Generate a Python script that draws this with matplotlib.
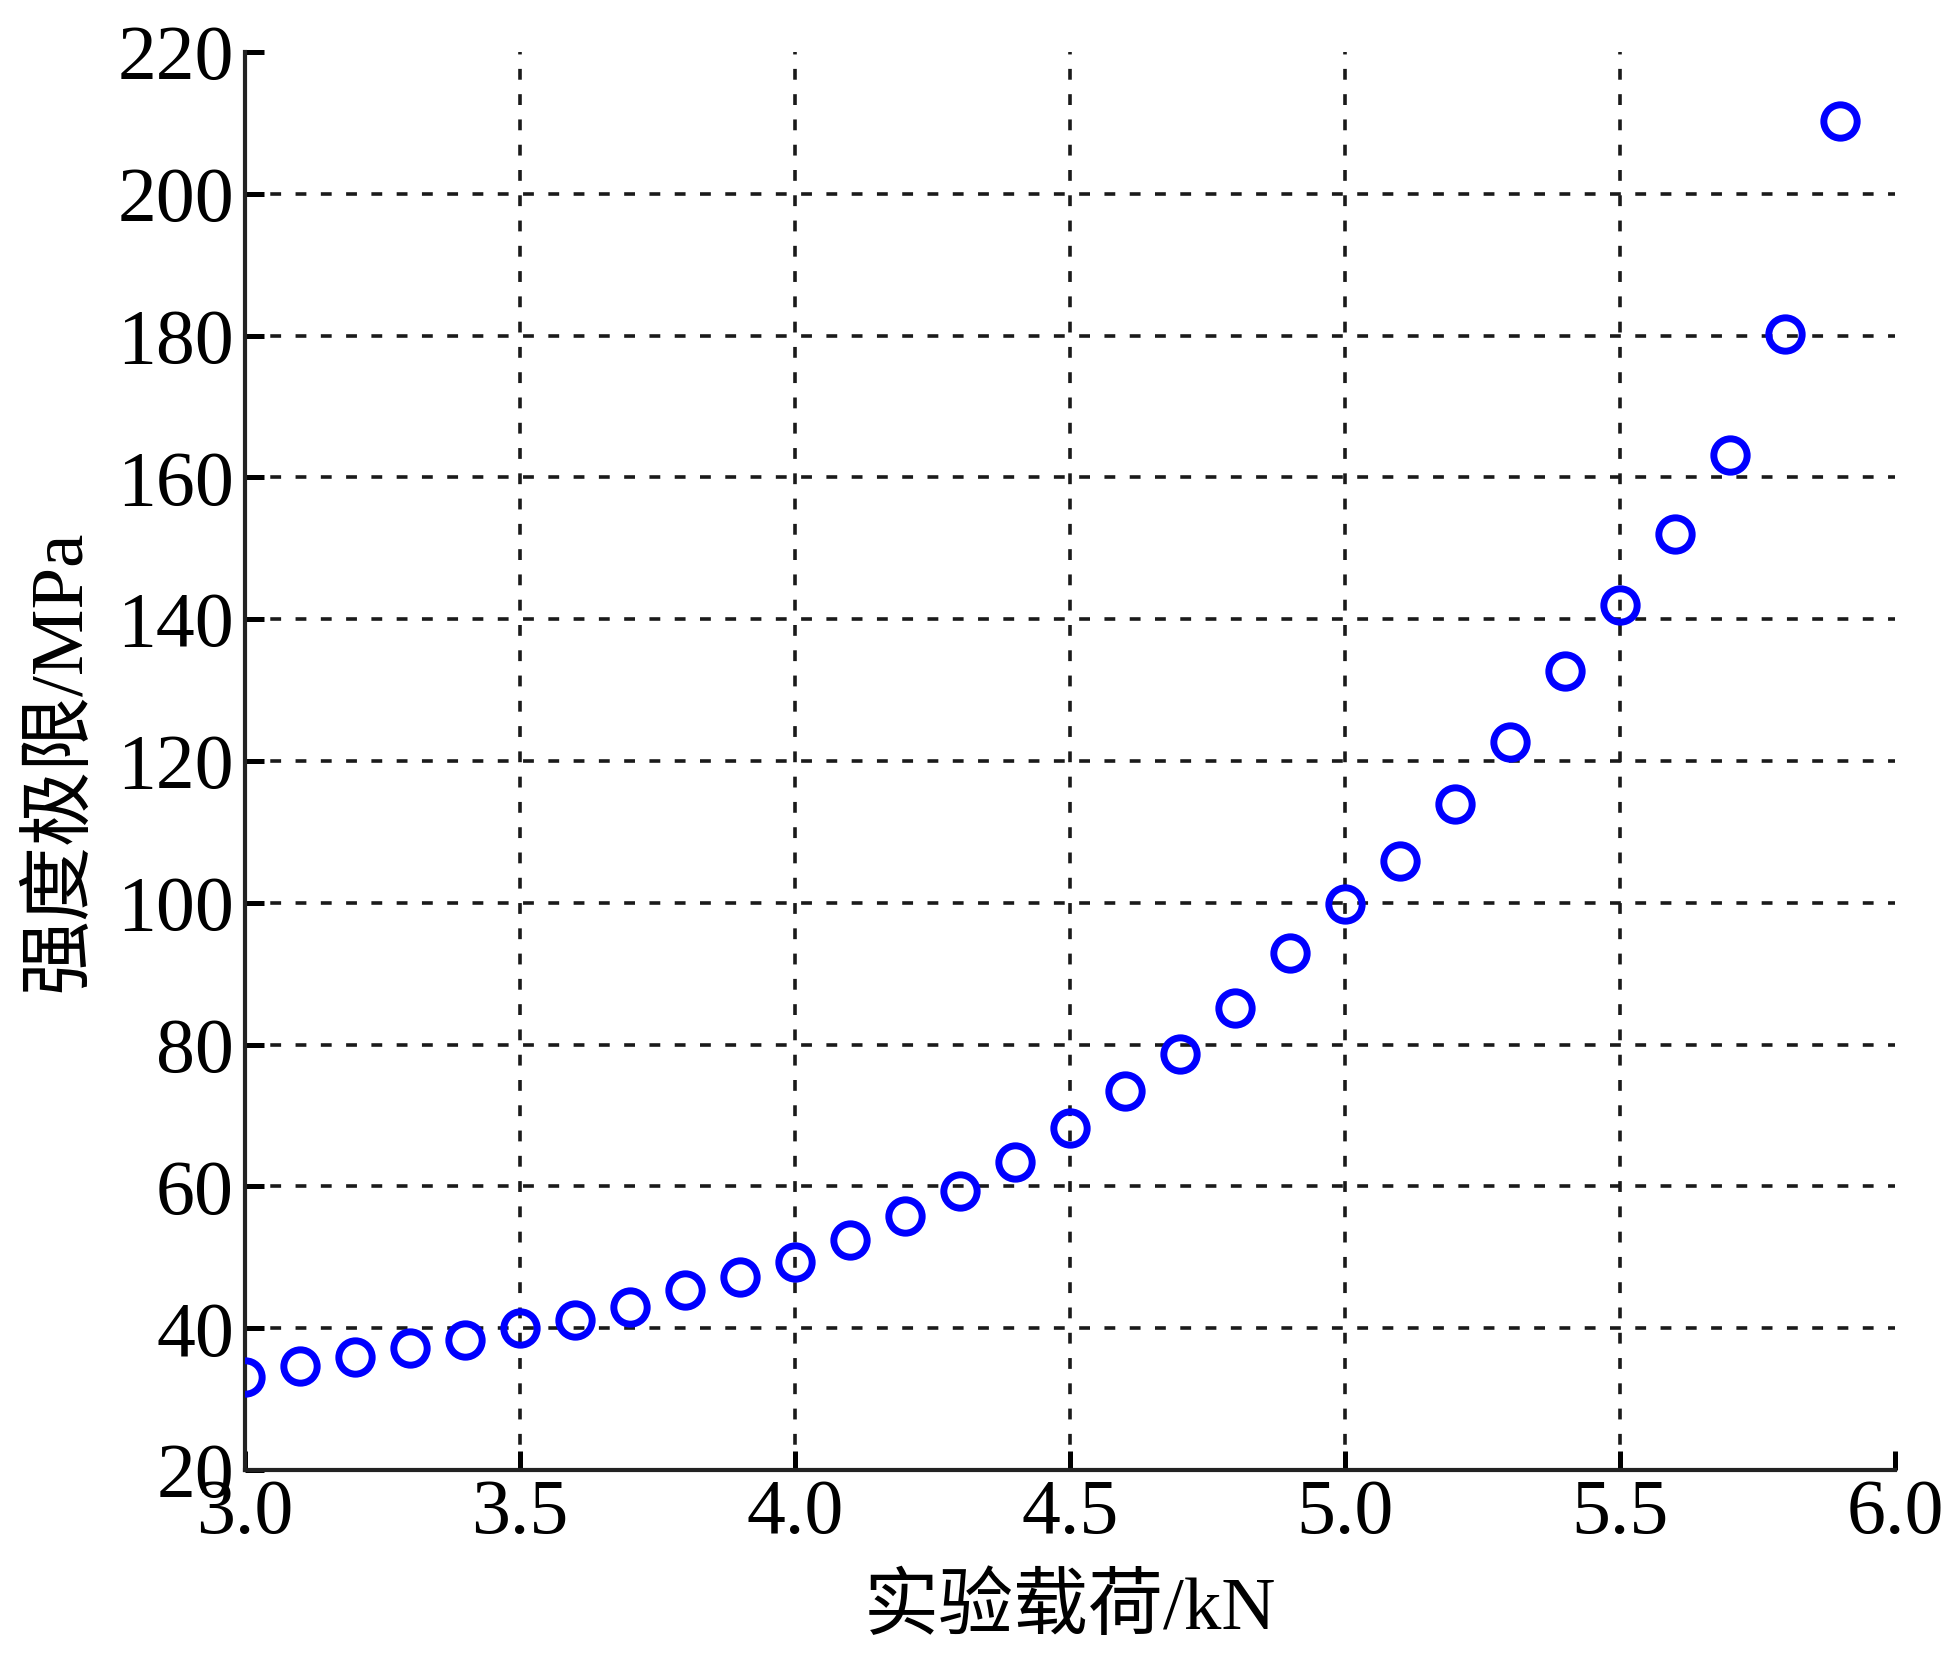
import numpy as np
import matplotlib.pyplot as plt

# load (kN) vs strength limit (MPa)
load_kn = [3.0, 3.1, 3.2, 3.3, 3.4, 3.5, 3.6, 3.7, 3.8, 3.9,
           4.0, 4.1, 4.2, 4.3, 4.4, 4.5, 4.6, 4.7, 4.8, 4.9,
           5.0, 5.1, 5.2, 5.3, 5.4, 5.5, 5.6, 5.7, 5.8, 5.9]
strength_mpa = [33.1, 34.7, 36.0, 37.2, 38.4, 40.0, 41.2, 43.0, 45.4, 47.2,
                49.4, 52.4, 55.9, 59.4, 63.5, 68.2, 73.5, 78.7, 85.2, 92.9,
                99.8, 105.9, 114.0, 122.7, 132.7, 142.0, 152.0, 163.2, 180.2, 210.2]

x_ticks = [3.0, 3.5, 4.0, 4.5, 5.0, 5.5, 6.0]
y_ticks = [20, 40, 60, 80, 100, 120, 140, 160, 180, 200, 220]

plt.rcParams['font.family'] = ['Liberation Serif', 'Noto Sans CJK SC']

fig = plt.figure(figsize=(9.74, 8.27), dpi=200)
ax = fig.add_axes([0.1258, 0.1112, 0.847, 0.8574])

ax.plot(load_kn, strength_mpa, ls="none", marker="o", ms=12,
        mfc="none", mec="#0000ff", mew=2.5, zorder=3)

ax.set_xlim(3.0, 6.0)
ax.set_ylim(20, 220)
ax.set_xticks(x_ticks)
ax.set_xticklabels([f"{v:.1f}" for v in x_ticks])
ax.set_yticks(y_ticks)

ax.grid(True, color="#1a1a1a", ls=(0, (3.0, 4.0)), lw=1.3)
# no grid line on the limits (220 and 6.0)
ax.yaxis.get_gridlines()[-1].set_visible(False)
ax.xaxis.get_gridlines()[-1].set_visible(False)

for side in ["top", "right"]:
    ax.spines[side].set_visible(False)
for side in ["left", "bottom"]:
    ax.spines[side].set_linewidth(1.5)
    ax.spines[side].set_color("#222222")

ax.tick_params(direction="in", length=7, width=1.8, labelsize=28)
ax.tick_params(axis="y", pad=4)
ax.tick_params(axis="x", pad=3)

ax.set_xlabel("实验载荷/kN", fontsize=27, labelpad=9)
ax.set_ylabel("强度极限/MPa", fontsize=27, labelpad=8)

fig.savefig("out.png", dpi=200)
